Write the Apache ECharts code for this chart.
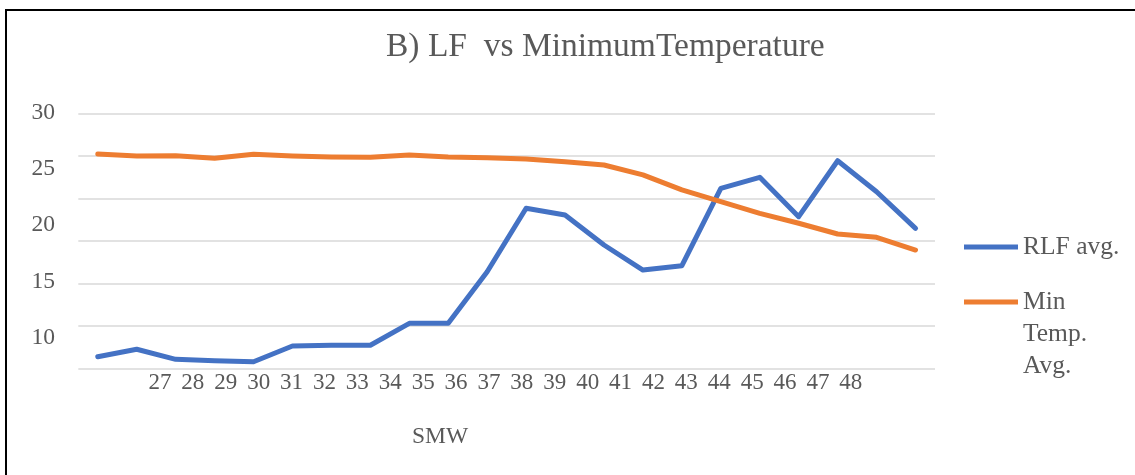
<!DOCTYPE html>
<html>
<head>
<meta charset="utf-8">
<title>B) LF vs Minimum Temperature</title>
<script src="https://cdn.jsdelivr.net/npm/echarts@6/dist/echarts.min.js"></script>
<style>
  html, body { margin: 0; padding: 0; background: #fff; }
  #wrap { position: relative; width: 1135px; height: 475px; overflow: hidden; }
  #frame { position: absolute; left: 5px; top: 9px; width: 1200px; height: 600px;
           border-top: 2px solid #000; border-left: 2px solid #000; box-sizing: border-box; }
  #chart { position: absolute; left: 0; top: 0; width: 1135px; height: 475px; }
</style>
</head>
<body>
<div id="wrap">
  <div id="frame"></div>
  <div id="chart"></div>
</div>
<script>
// Standard meteorological weeks
const weeks = ['27','28','29','30','31','32','33','34','35','36','37','38','39','40','41','42','43','44','45','46','47','48'];

// Weekly averages
const rlfAvg = [1.41, 2.28, 1.10, 0.94, 0.82, 2.67, 2.75, 2.75, 5.33, 5.33, 11.39, 18.84,
                18.05, 14.53, 11.59, 12.10, 21.19, 22.48, 17.86, 24.43, 20.79, 16.49];
const minTempAvg = [25.22, 24.99, 25.02, 24.72, 25.19, 24.99, 24.87, 24.83, 25.10, 24.87, 24.79, 24.63,
                    24.32, 23.93, 22.76, 21.00, 19.62, 18.25, 17.08, 15.82, 15.43, 13.94];

// Value-axis tick labels shown on the left
const yTickLabels = ['10', '15', '20', '25', '30'];

const serif = '"Liberation Serif", "Times New Roman", serif';
const textGray = '#595959';

const chart = echarts.init(document.getElementById('chart'), null, { renderer: 'canvas' });

chart.setOption({
  animation: false,
  backgroundColor: 'transparent',
  title: [
    {
      text: 'B) LF  vs MinimumTemperature',
      left: 381, top: 25,
      textStyle: { fontFamily: serif, fontSize: 33.5, fontWeight: 'normal', color: textGray }
    },
    {
      text: 'SMW',
      left: 407, top: 420,
      textStyle: { fontFamily: serif, fontSize: 23.5, fontWeight: 'normal', color: textGray }
    }
  ],
  legend: [
    {
      data: ['RLF avg.'],
      orient: 'vertical', left: 959, top: 226,
      icon: 'rect', itemWidth: 54, itemHeight: 5,
      textStyle: { fontFamily: serif, fontSize: 25.5, color: textGray, lineHeight: 32 }
    },
    {
      data: ['Min Temp. Avg.'],
      orient: 'vertical', left: 959, top: 217,
      icon: 'rect', itemWidth: 54, itemHeight: 5,
      formatter: name => '\n\n' + name.replace(/ /g, '\n'),
      textStyle: { fontFamily: serif, fontSize: 25.5, color: textGray, lineHeight: 32 }
    }
  ],
  grid: [
    // plotting area
    { left: 78.3, top: 113.3, width: 856.7, height: 255.4 },
    // left tick-label strip
    { left: 63, top: 112.5, width: 10, height: 225.3 },
    // week-label strip
    { left: 143.5, top: 368, width: 723.8, height: 1 }
  ],
  xAxis: [
    {
      gridIndex: 0, type: 'category', data: weeks, boundaryGap: true,
      axisLine: { show: false }, axisTick: { show: false }, axisLabel: { show: false }
    },
    {
      gridIndex: 1, type: 'value', show: false
    },
    {
      gridIndex: 2, type: 'category', data: weeks, boundaryGap: true, position: 'bottom',
      axisLine: { show: false }, axisTick: { show: false },
      axisLabel: { show: true, interval: 0, margin: 2, fontFamily: serif, fontSize: 23, color: textGray }
    }
  ],
  yAxis: [
    {
      gridIndex: 0, type: 'value', min: 0, max: 30, interval: 5,
      axisLine: { show: false }, axisTick: { show: false }, axisLabel: { show: false },
      splitLine: { show: true, lineStyle: { color: '#d9d9d9', width: 1.5 } }
    },
    {
      gridIndex: 1, type: 'value', min: 10, max: 30, interval: 5,
      axisLine: { show: false }, axisTick: { show: false }, splitLine: { show: false },
      axisLabel: {
        show: true, margin: 8, fontFamily: serif, fontSize: 23.5, color: textGray,
        formatter: v => yTickLabels[Math.round((v - 10) / 5)]
      }
    },
    {
      gridIndex: 2, type: 'value', show: false
    }
  ],
  series: [
    {
      name: 'RLF avg.', type: 'line', xAxisIndex: 0, yAxisIndex: 0,
      data: rlfAvg, showSymbol: false, symbol: 'none',
      lineStyle: { color: '#4472C4', width: 5, join: 'round', cap: 'round' },
      itemStyle: { color: '#4472C4' }
    },
    {
      name: 'Min Temp. Avg.', type: 'line', xAxisIndex: 0, yAxisIndex: 0,
      data: minTempAvg, showSymbol: false, symbol: 'none',
      lineStyle: { color: '#ED7D31', width: 5, join: 'round', cap: 'round' },
      itemStyle: { color: '#ED7D31' }
    }
  ]
});
</script>
</body>
</html>
